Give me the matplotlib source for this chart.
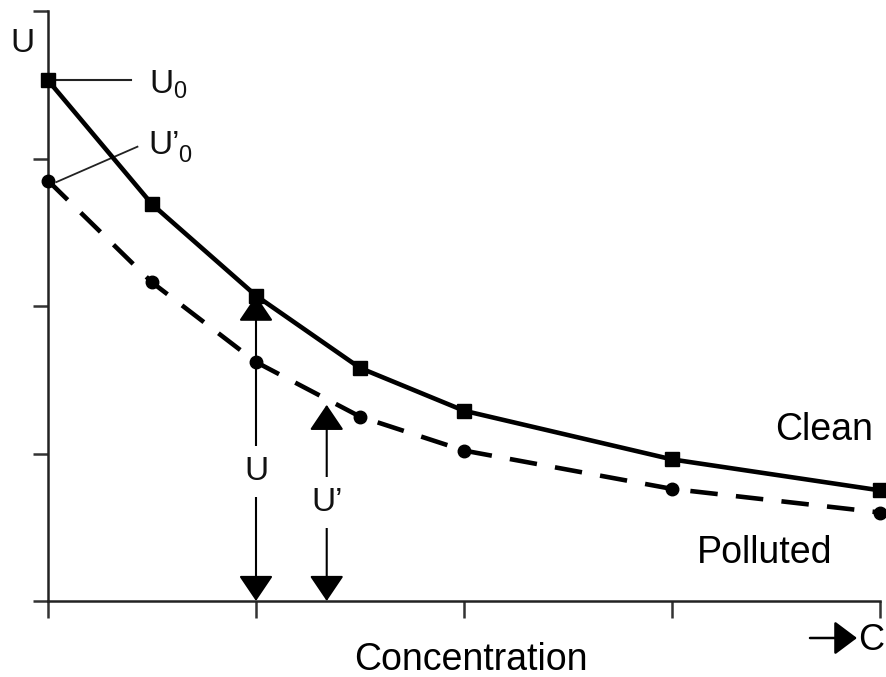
import matplotlib
matplotlib.use("Agg")
import matplotlib.pyplot as plt

plt.rcParams['font.family'] = ['Liberation Sans', 'DejaVu Sans']
plt.rcParams['mathtext.fontset'] = 'custom'
plt.rcParams['mathtext.rm'] = 'Liberation Sans'

# data (relative units)
conc = [0.0, 0.5, 1.0, 1.5, 2.0, 3.0, 4.0]
clean = [3.53, 2.69, 2.07, 1.58, 1.29, 0.96, 0.75]
polluted = [2.85, 2.16, 1.62, 1.25, 1.02, 0.76, 0.60]
tick_pos = [0, 1, 2, 3, 4]
arrow_x = [1.0, 1.34]
arrow_top = [2.07, 1.33]
arrow_labels = ['U', 'U’']
arrow_label_y = [0.88, 0.67]

W, H = 886, 677
fig = plt.figure(figsize=(W / 100, H / 100), dpi=100)
ax = fig.add_axes([48 / W, 76 / H, 832 / W, 590 / H])
ax.set_xlim(0, 4)
ax.set_ylim(0, 4)
for s in ['top', 'right']:
    ax.spines[s].set_visible(False)
for s in ['left', 'bottom']:
    ax.spines[s].set_linewidth(1.8)
    ax.spines[s].set_color('#222222')
ax.set_xticks(tick_pos)
ax.set_yticks(tick_pos)
ax.set_xticklabels([])
ax.set_yticklabels([])
ax.tick_params(axis='x', direction='out', length=12, width=1.8, color='#333333')
ax.tick_params(axis='y', direction='out', length=11, width=1.8, color='#333333')

ax.plot(conc, clean, '-', color='black', lw=3.3, marker='s', ms=10, clip_on=False, zorder=4)
ax.plot(conc, polluted, color='black', lw=3.3, linestyle=(0, (6, 4)), marker='o', ms=9,
        clip_on=False, zorder=4)

# measurement arrows
for x, top, lab, ly in zip(arrow_x, arrow_top, arrow_labels, arrow_label_y):
    ax.annotate('', xy=(x, top), xytext=(x, 0),
                arrowprops=dict(arrowstyle='<|-|>,head_length=0.4,head_width=0.27',
                                mutation_scale=40, color='black', lw=1.5,
                                shrinkA=0, shrinkB=0), zorder=3)
    ax.text(x, ly, lab, ha='center', va='center', fontsize=24, color='#111111',
            bbox=dict(boxstyle='square,pad=0.3', fc='white', ec='none'), zorder=3.5)

# leader lines for U0 and U'0
ax.plot([0.0, 0.4], [clean[0], clean[0]], color='#222222', lw=1.5, clip_on=False, zorder=3)
ax.plot([0.04, 0.43], [polluted[0] - 0.01, 3.08], color='#222222', lw=1.3, clip_on=False, zorder=3)

fig.text(149 / W, 1 - 85 / H, r'$\mathregular{U_0}$', fontsize=24, va='center', ha='left', color='#111111')
fig.text(148 / W, 1 - 145 / H, 'U’', fontsize=24, va='center', ha='left', color='#111111')
fig.text(178 / W, 1 - 156 / H, '0', fontsize=17, va='center', ha='left', color='#111111')
fig.text(22 / W, 1 - 44 / H, 'U', fontsize=24, va='center', ha='center', color='#111111')

fig.text(824 / W, 1 - 430 / H, 'Clean', fontsize=27, va='center', ha='center')
fig.text(765 / W, 1 - 553 / H, 'Polluted', fontsize=27, va='center', ha='center')
fig.text(471 / W, 1 - 660 / H, 'Concentration', fontsize=27, va='center', ha='center')

# C axis arrow label
fig.add_artist(matplotlib.patches.FancyArrowPatch(
    (810 / W, 1 - 638 / H), (857 / W, 1 - 638 / H), transform=fig.transFigure,
    arrowstyle='-|>,head_length=0.4,head_width=0.3', mutation_scale=35,
    color='black', lw=1.8, shrinkA=0, shrinkB=0))
fig.text(858 / W, 1 - 640 / H, 'C', fontsize=26, va='center', ha='left')

fig.savefig('out.png', dpi=100)
